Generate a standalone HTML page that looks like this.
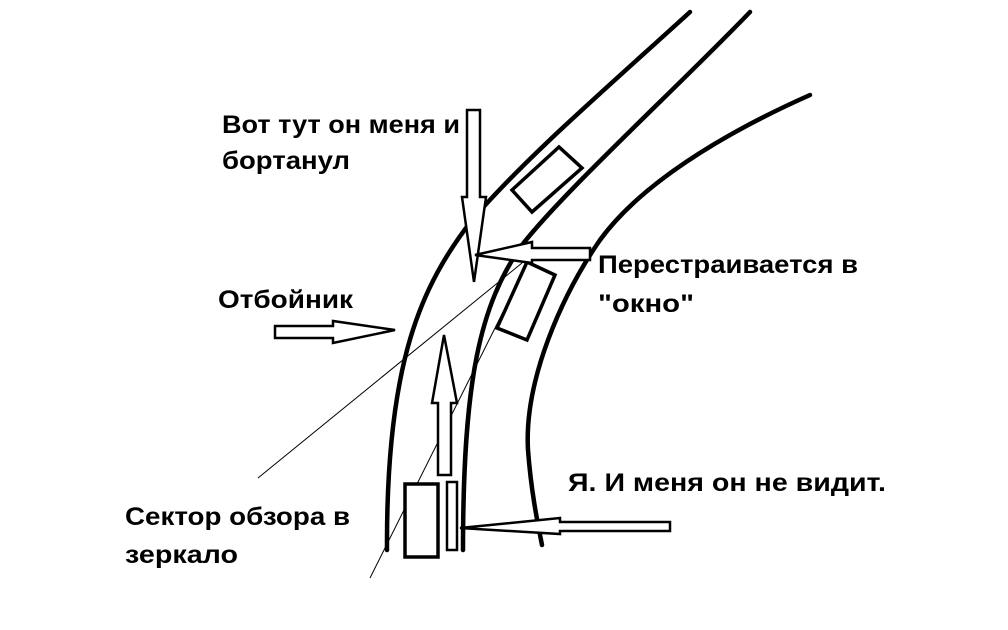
<!DOCTYPE html>
<html><head><meta charset="utf-8"><style>
html,body{margin:0;padding:0;background:#fff;}
svg{display:block;}
text{font-family:"Liberation Sans",sans-serif;font-weight:bold;font-size:25px;fill:#000;}
</style></head><body>
<svg width="1008" height="630" viewBox="0 0 1008 630" xmlns="http://www.w3.org/2000/svg">
<g fill="none" stroke="#000" stroke-width="4.5" stroke-linecap="round" stroke-linejoin="round">
<path d="M690,12 C610,85 525,158 472,220 C422,285 386,360 387,550"/>
<path d="M750,12 C680,85 565,190 522,245 C480,305 463,380 463,550"/>
<path d="M810,95 C720,135 640,185 600,240 C562,295 524,380 528,450 C531,490 537,520 542,545"/>
</g>
<g fill="none" stroke="#000" stroke-width="1">
<line x1="258" y1="478" x2="522" y2="263"/>
<line x1="370" y1="578" x2="526" y2="266"/>
</g>
<g fill="#fff" stroke="#000" stroke-width="3.5" stroke-linejoin="miter">
<polygon points="512,190 559,147 582,168 532,212"/>
<polygon points="527,262 555,275 527,340 497,328"/>
<rect x="405" y="484" width="33" height="73"/>
<rect x="447" y="482" width="10" height="68" stroke-width="2.5"/>
</g>
<g fill="#fff" stroke="#000" stroke-width="2.5" stroke-linejoin="miter">
<polygon points="467,110 480,110 480,197 486,197 474,282 462,197 467,197"/>
<polygon points="475,255 532,242 532,248 590,248 590,260 532,260 532,263"/>
<polygon points="438,475 451,475 451,403 457,403 444,335 432,403 438,403"/>
<polygon points="275,326 333,326 333,321 395,330 333,343 333,338 275,338"/>
<polygon points="670,522 560,522 560,518 460,528 560,534 560,531 670,531"/>
</g>
<text x="222" y="133" textLength="238" lengthAdjust="spacingAndGlyphs">Вот тут он меня и</text>
<text x="222" y="169" textLength="128" lengthAdjust="spacingAndGlyphs">бортанул</text>
<text x="218" y="308" textLength="135" lengthAdjust="spacingAndGlyphs">Отбойник</text>
<text x="598" y="273" textLength="260" lengthAdjust="spacingAndGlyphs">Перестраивается в</text>
<text x="598" y="312" textLength="96" lengthAdjust="spacingAndGlyphs">"окно"</text>
<text x="568" y="491" textLength="318" lengthAdjust="spacingAndGlyphs">Я. И меня он не видит.</text>
<text x="125" y="525" textLength="225" lengthAdjust="spacingAndGlyphs">Сектор обзора в</text>
<text x="125" y="563" textLength="113" lengthAdjust="spacingAndGlyphs">зеркало</text>
</svg>
</body></html>
